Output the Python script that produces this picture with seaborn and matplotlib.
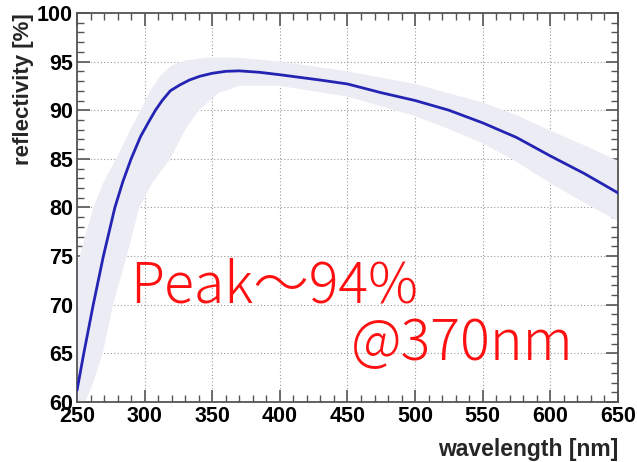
import numpy as np
import pandas as pd
import matplotlib
matplotlib.use("Agg")
import matplotlib.pyplot as plt
import seaborn as sns
from matplotlib.ticker import MultipleLocator

# Central reflectivity curve
wavelength = [250, 255, 262, 269.5, 278, 284, 290, 297, 303, 308, 313, 319, 326, 333,
              341, 350, 360, 370, 385, 400, 430, 450, 475, 500, 525, 550, 575, 600, 625, 650]
reflectivity = [61.2, 65.0, 70.0, 75.0, 80.0, 82.7, 85.0, 87.3, 88.8, 90.0, 91.0, 92.0, 92.6, 93.1,
                93.5, 93.8, 94.0, 94.05, 93.9, 93.65, 93.1, 92.7, 91.8, 91.0, 90.0, 88.7, 87.2, 85.3,
                83.5, 81.5]

# Uncertainty band edges
upper_wl = [250, 256, 262, 270, 279, 288, 297, 305, 312, 320, 330, 345, 370, 400, 450,
            500, 526, 550, 575, 600, 625, 650]
upper_val = [74.0, 77.0, 80.0, 82.7, 85.0, 87.6, 90.0, 92.2, 93.6, 94.6, 95.1, 95.4, 95.4, 95.0,
             94.0, 92.7, 91.7, 90.8, 89.5, 87.9, 86.4, 84.8]
lower_wl = [250, 262, 269, 276.6, 286.7, 296, 306, 319, 330, 340, 355, 370, 400, 450, 500,
            526, 550, 575, 600, 625, 650]
lower_val = [58.0, 62.0, 65.0, 70.0, 75.0, 80.0, 82.6, 85.0, 88.0, 90.0, 91.8, 92.5, 92.5, 91.4,
             89.4, 88.0, 86.6, 84.7, 82.5, 80.5, 78.6]

xticks = [250, 300, 350, 400, 450, 500, 550, 600, 650]
yticks = [60, 65, 70, 75, 80, 85, 90, 95, 100]

sns.set_theme(style="white")
plt.rcParams['font.family'] = ['Liberation Sans', 'DejaVu Sans']

fig = plt.figure(figsize=(6.37, 4.62), dpi=100)
ax = fig.add_axes([0.1209, 0.1299, 0.8492, 0.8420])

# band
poly_x = np.concatenate([upper_wl, lower_wl[::-1]])
poly_y = np.concatenate([upper_val, lower_val[::-1]])
ax.fill(poly_x, poly_y, facecolor='#ececf4', edgecolor='none', zorder=1)

df = pd.DataFrame({"wavelength": wavelength, "reflectivity": reflectivity})
sns.lineplot(data=df, x="wavelength", y="reflectivity", ax=ax, color='#2424b4',
             linewidth=2.0, zorder=3)

ax.set_xlim(250, 650)
ax.set_ylim(60, 100)
ax.set_xticks(xticks)
ax.set_yticks(yticks)
ax.set_xticklabels([str(t) for t in xticks])
ax.set_yticklabels([str(t) for t in yticks])
ax.xaxis.set_minor_locator(MultipleLocator(10))
ax.yaxis.set_minor_locator(MultipleLocator(1))

ax.grid(True, which='major', linestyle=(0, (1, 2)), color='#9a9a9a', linewidth=0.8, zorder=0)
ax.set_axisbelow(True)

ax.tick_params(which='both', direction='in', top=True, right=True, bottom=True, left=True,
               color='#555555')
ax.tick_params(which='major', length=9, width=1.2, labelsize=15.5, pad=3, labelcolor='black')
ax.tick_params(which='minor', length=5, width=1.0)
for lab in ax.get_xticklabels() + ax.get_yticklabels():
    lab.set_fontweight('bold')
for s in ax.spines.values():
    s.set_color('#555555')
    s.set_linewidth(1.3)

ax.set_xlabel("wavelength [nm]", fontsize=16.5, fontweight='bold', loc='right', labelpad=8)
ax.set_ylabel("reflectivity [%]", fontsize=16, fontweight='bold', loc='top', labelpad=2)

txt_family = ['Noto Sans CJK JP', 'DejaVu Sans']
ax.text(0.098, 0.257, "Peak〜94%", transform=ax.transAxes, fontsize=40, color='#ff1010',
        family=txt_family, fontweight='light', ha='left', va='baseline', zorder=5)
ax.text(0.507, 0.108, "@370nm", transform=ax.transAxes, fontsize=40, color='#ff1010',
        family=txt_family, fontweight='light', ha='left', va='baseline', zorder=5)

fig.savefig("out.png", dpi=100)
